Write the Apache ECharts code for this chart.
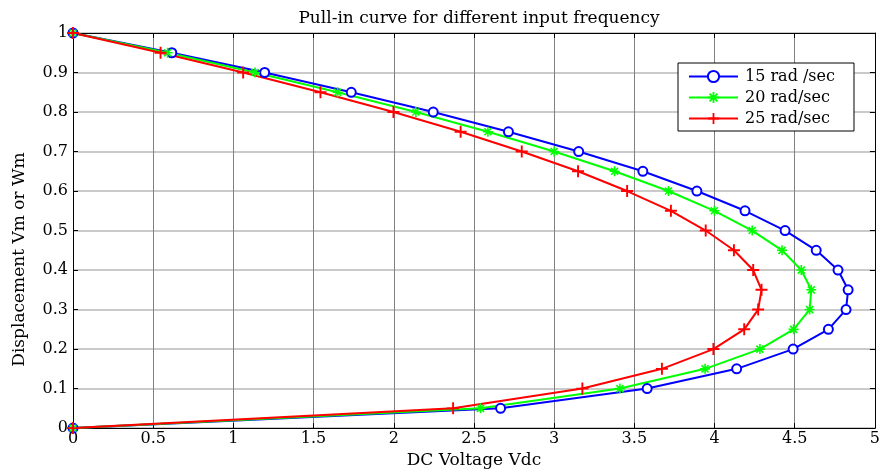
<!DOCTYPE html>
<html><head><meta charset="utf-8">
<script src="https://cdn.jsdelivr.net/npm/echarts@6/dist/echarts.min.js"></script>
<style>html,body{margin:0;padding:0;background:#fff}#c{width:883px;height:474px}</style>
</head><body><div id="c"></div><script>
// Displacement values (y) shared by all curves
const displacement = [1,0.95,0.9,0.85,0.8,0.75,0.7,0.65,0.6,0.55,0.5,0.45,0.4,0.35,0.3,0.25,0.2,0.15,0.1,0.05,0];
// DC voltage (x) for each input frequency
const vdc15 = [0,0.616,1.195,1.735,2.246,2.715,3.153,3.553,3.89,4.19,4.44,4.634,4.77,4.833,4.82,4.71,4.49,4.138,3.58,2.666,0];
const vdc20 = [0,0.59,1.135,1.65,2.138,2.587,3.0,3.377,3.713,3.999,4.235,4.421,4.541,4.603,4.593,4.493,4.283,3.941,3.41,2.541,0];
const vdc25 = [0,0.546,1.061,1.543,1.998,2.417,2.798,3.149,3.455,3.728,3.945,4.121,4.241,4.293,4.272,4.185,3.993,3.672,3.176,2.37,0];
const seriesNames = ['15 rad /sec','20 rad/sec','25 rad/sec'];
const xMin = 0, xMax = 5, xStep = 0.5;
const yMin = 0, yMax = 1, yStep = 0.1;

const FONT = 'DejaVu Serif';
const plusPath = 'path://M4.2,0H5.8V4.2H10V5.8H5.8V10H4.2V5.8H0V4.2H4.2Z';
const starPath = 'path://M0,4.2H10V5.8H0Z M4.2,0H5.8V10H4.2Z M2.07,0.93L9.07,7.93L7.93,9.07L0.93,2.07Z M7.93,0.93L9.07,2.07L2.07,9.07L0.93,7.93Z';

const pair = arr => arr.map((x, i) => [x, displacement[i]]);

const chart = echarts.init(document.getElementById('c'), null, {renderer: 'canvas'});
const axisCommon = {
  type: 'value',
  axisLine: {show: true, onZero: false, lineStyle: {color: '#000', width: 1}},
  axisTick: {show: true, inside: true, length: 5, lineStyle: {color: '#000'}},
};
chart.setOption({
  animation: false,
  backgroundColor: '#fff',
  title: {
    text: 'Pull-in curve for different input frequency',
    left: 474, top: 5, textAlign: 'center',
    textStyle: {fontFamily: FONT, fontSize: 17, fontWeight: 'normal', color: '#000'}
  },
  grid: {left: 73, right: 4, top: 33, bottom: 41, containLabel: false},
  legend: {
    orient: 'vertical', left: 678, top: 63,
    itemWidth: 49, itemHeight: 14, itemGap: 4,
    padding: [5, 19, 4, 10],
    borderColor: '#000', borderWidth: 1, backgroundColor: '#fff',
    textStyle: {fontFamily: FONT, fontSize: 16, color: '#000', padding: [0, 0, 0, 2], lineHeight: 17},
    data: seriesNames
  },
  xAxis: [
    Object.assign({}, axisCommon, {
      min: xMin, max: xMax, interval: xStep, position: 'bottom',
      axisLabel: {fontFamily: FONT, fontSize: 16, color: '#000', margin: 3},
      splitLine: {show: true, lineStyle: {color: '#808080', width: 1}},
      name: 'DC Voltage Vdc', nameLocation: 'middle', nameGap: 22,
      nameTextStyle: {fontFamily: FONT, fontSize: 17, color: '#000'}
    }),
    Object.assign({}, axisCommon, {
      min: xMin, max: xMax, interval: xStep, position: 'top',
      axisLabel: {show: false}, splitLine: {show: false}
    })
  ],
  yAxis: [
    Object.assign({}, axisCommon, {
      min: yMin, max: yMax, interval: yStep, position: 'left',
      axisLabel: {fontFamily: FONT, fontSize: 16, color: '#000', margin: 5},
      splitLine: {show: true, lineStyle: {color: '#b8b8b8', width: 1.5}},
      name: 'Displacement Vm or Wm', nameLocation: 'middle', nameGap: 45,
      nameTextStyle: {fontFamily: FONT, fontSize: 17, color: '#000', padding: [0, 58, 0, 0]}
    }),
    Object.assign({}, axisCommon, {
      min: yMin, max: yMax, interval: yStep, position: 'right',
      axisLabel: {show: false}, splitLine: {show: false}
    })
  ],
  series: [
    {
      name: seriesNames[0], type: 'line', data: pair(vdc15),
      symbol: 'emptyCircle', symbolSize: 9,
      lineStyle: {color: '#0000ff', width: 2},
      itemStyle: {color: '#0000ff', borderColor: '#0000ff', borderWidth: 1.6}
    },
    {
      name: seriesNames[1], type: 'line', data: pair(vdc20),
      symbol: starPath, symbolSize: 10,
      lineStyle: {color: '#00ff00', width: 2},
      itemStyle: {color: '#00ff00'}
    },
    {
      name: seriesNames[2], type: 'line', data: pair(vdc25),
      symbol: plusPath, symbolSize: 12,
      lineStyle: {color: '#ff0000', width: 2},
      itemStyle: {color: '#ff0000'}
    }
  ]
});
</script></body></html>
